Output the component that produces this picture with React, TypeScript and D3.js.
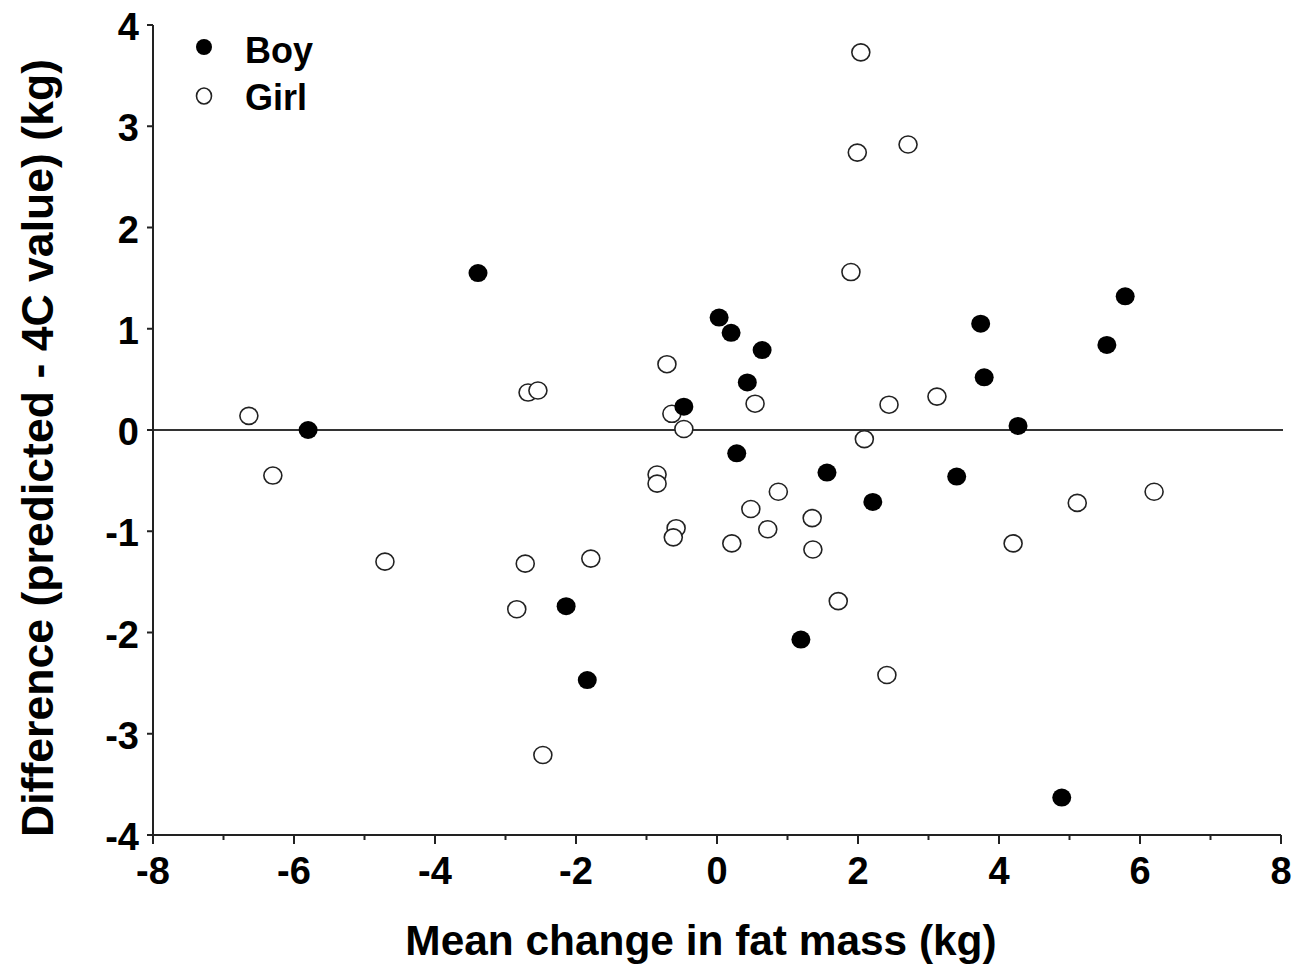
import * as d3 from 'd3'

// Boy (filled) points: mean change in fat mass vs difference
const boyX = [-5.80, -3.39, 0.03, 0.20, 0.64, 0.43, -0.47, 0.28, 1.56, 2.21, 3.40, 3.74, 3.79, 4.27, 5.53, 5.79, -2.14, -1.84, 1.19, 4.89]
const boyY = [0.00, 1.55, 1.11, 0.96, 0.79, 0.47, 0.23, -0.23, -0.42, -0.71, -0.46, 1.05, 0.52, 0.04, 0.84, 1.32, -1.74, -2.47, -2.07, -3.63]

// Girl (open) points
const girlX = [2.04, 1.99, 2.71, 1.90, -6.64, -6.30, -4.71, -2.68, -2.54, -0.71, -0.64, -0.47, -0.85, -0.85, -0.58, -0.62, -2.72, -1.79, -2.84, -2.47, 0.54, 2.44, 3.12, 2.09, 0.87, 0.48, 0.72, 1.35, 0.21, 1.36, 1.72, 2.41, 5.11, 4.20, 6.20]
const girlY = [3.73, 2.74, 2.82, 1.56, 0.14, -0.45, -1.30, 0.37, 0.39, 0.65, 0.16, 0.01, -0.44, -0.53, -0.97, -1.06, -1.32, -1.27, -1.77, -3.21, 0.26, 0.25, 0.33, -0.09, -0.61, -0.78, -0.98, -0.87, -1.12, -1.18, -1.69, -2.42, -0.72, -1.12, -0.61]

const xMajor = [-8, -6, -4, -2, 0, 2, 4, 6, 8]
const xMinor = [-7, -5, -3, -1, 1, 3, 5, 7]
const yTicks = [-4, -3, -2, -1, 0, 1, 2, 3, 4]

const FONT = 'Liberation Sans, Arial, sans-serif'

export default function App() {
  const width = 1297
  const height = 967

  const x = d3.scaleLinear().domain([-8, 8]).range([153, 1281])
  const y = d3.scaleLinear().domain([-4, 4]).range([835, 25])

  const boys = boyX.map((v, i) => ({x: v, y: boyY[i]}))
  const girls = girlX.map((v, i) => ({x: v, y: girlY[i]}))

  return (
    <svg
      width={width}
      height={height}
      style={{position: 'absolute', left: 0, top: 0, background: '#fff'}}
      fontFamily={FONT}
      fontWeight={700}
    >
      {/* zero line */}
      <line x1={x(-8)} x2={x(8) + 2} y1={y(0)} y2={y(0)} stroke="#333" strokeWidth={2} />

      {/* axes */}
      <line x1={x(-8)} x2={x(-8)} y1={y(4)} y2={y(-4)} stroke="#222" strokeWidth={2} />
      <line x1={x(-8)} x2={x(8)} y1={y(-4)} y2={y(-4)} stroke="#222" strokeWidth={2} />

      {yTicks.map(t => (
        <g key={'y' + t}>
          <line x1={x(-8) - 6} x2={x(-8)} y1={y(t)} y2={y(t)} stroke="#222" strokeWidth={2} />
          <text x={139} y={y(t) + 15} fontSize={38} textAnchor="end" fill="#000">{t}</text>
        </g>
      ))}

      {xMajor.map(t => (
        <g key={'x' + t}>
          <line x1={x(t)} x2={x(t)} y1={y(-4)} y2={y(-4) + 9} stroke="#222" strokeWidth={2} />
          <text x={x(t)} y={884} fontSize={38} textAnchor="middle" fill="#000">{t}</text>
        </g>
      ))}
      {xMinor.map(t => (
        <line key={'m' + t} x1={x(t)} x2={x(t)} y1={y(-4)} y2={y(-4) + 5} stroke="#222" strokeWidth={2} />
      ))}

      {/* points */}
      {girls.map((d, i) => (
        <ellipse key={'g' + i} cx={x(d.x)} cy={y(d.y)} rx={9} ry={8.5} fill="#fff" stroke="#222" strokeWidth={1.6} />
      ))}
      {boys.map((d, i) => (
        <ellipse key={'b' + i} cx={x(d.x)} cy={y(d.y)} rx={9.5} ry={9} fill="#000" />
      ))}

      {/* legend */}
      <ellipse cx={204} cy={47} rx={8} ry={8} fill="#000" />
      <text x={245} y={63} fontSize={36} fill="#000">Boy</text>
      <ellipse cx={204} cy={96} rx={7.5} ry={8} fill="#fff" stroke="#222" strokeWidth={1.6} />
      <text x={245} y={110} fontSize={36} fill="#000">Girl</text>

      {/* axis titles */}
      <text x={701} y={955} fontSize={42.4} textAnchor="middle" fill="#000">Mean change in fat mass (kg)</text>
      <text
        transform={`translate(53, ${(y(4) + y(-4)) / 2 + 18}) rotate(-90)`}
        fontSize={44.6}
        textAnchor="middle"
        fill="#000"
      >
        Difference (predicted - 4C value) (kg)
      </text>
    </svg>
  )
}
